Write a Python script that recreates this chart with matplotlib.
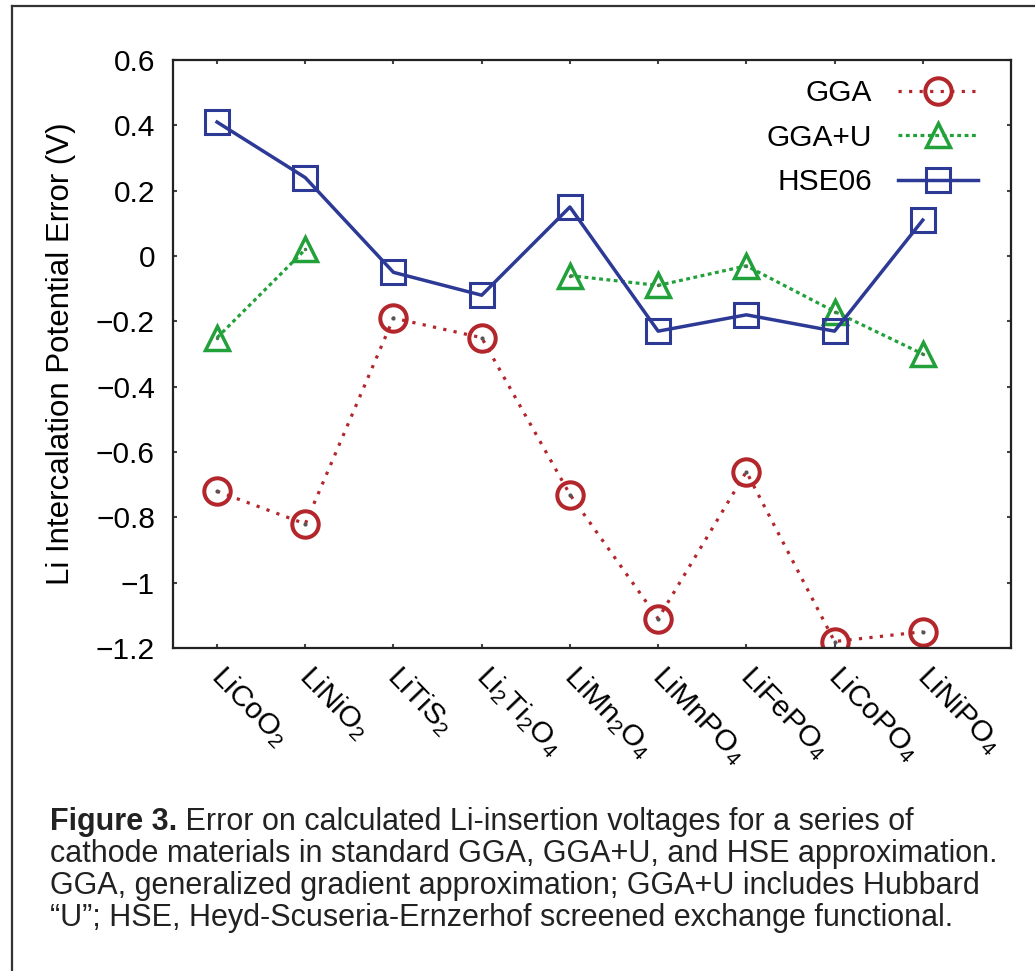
import numpy as np
import matplotlib
matplotlib.use("Agg")
import matplotlib.pyplot as plt
import matplotlib.transforms as mtransforms
from matplotlib.lines import Line2D

plt.rcParams['font.family'] = ['Liberation Sans', 'DejaVu Sans']
plt.rcParams['mathtext.fontset'] = 'custom'
plt.rcParams['mathtext.rm'] = 'Liberation Sans'
plt.rcParams['mathtext.default'] = 'regular'
plt.rcParams['axes.unicode_minus'] = True

# data
materials = ['LiCoO$_2$', 'LiNiO$_2$', 'LiTiS$_2$', 'Li$_2$Ti$_2$O$_4$', 'LiMn$_2$O$_4$',
             'LiMnPO$_4$', 'LiFePO$_4$', 'LiCoPO$_4$', 'LiNiPO$_4$']
gga = [-0.72, -0.82, -0.19, -0.25, -0.73, -1.11, -0.66, -1.18, -1.15]
gga_u = [-0.25, 0.02, np.nan, np.nan, -0.06, -0.09, -0.03, -0.17, -0.30]
hse06 = [0.41, 0.24, -0.05, -0.12, 0.15, -0.23, -0.18, -0.23, 0.11]
yticks = [0.6, 0.4, 0.2, 0, -0.2, -0.4, -0.6, -0.8, -1, -1.2]
caption = ["cathode materials in standard GGA, GGA+U, and HSE approximation.",
           "GGA, generalized gradient approximation; GGA+U includes Hubbard",
           "\u201cU\u201d; HSE, Heyd-Scuseria-Ernzerhof screened exchange functional."]

red = '#b3262b'
green = '#22a03a'
blue = '#2c3a96'

fig = plt.figure(figsize=(10.35, 9.71), dpi=100)
ax = fig.add_axes([0.1671, 0.3326, 0.8097, 0.6056])
x = np.arange(1, len(materials) + 1)

l1, = ax.plot(x, gga, color=red, lw=2.3, linestyle=(0, (1, 2.3)), marker='o', ms=19,
              mfc='none', mec=red, mew=2.9, label='GGA')
l2, = ax.plot(x, gga_u, color=green, lw=2.3, linestyle=(0, (1.2, 1.1)), marker='^', ms=17.5,
              mfc='none', mec=green, mew=2.5, label='GGA+U')
l3, = ax.plot(x, hse06, color=blue, lw=2.5, linestyle='-', marker='s', ms=17.5,
              mfc='none', mec=blue, mew=2.2, label='HSE06')
# small centre dots of the gnuplot point types
ax.plot(x, gga, linestyle='none', marker='.', ms=4, color='#555555')
ax.plot(x, gga_u, linestyle='none', marker='.', ms=3, color='#4a7a4a')

ax.set_xlim(0.5, 10)
ax.set_ylim(-1.2, 0.6)
ax.set_yticks(yticks)
ax.set_yticklabels([('%g' % v).replace('-', '\u2212') for v in yticks])
ax.set_xticks(x)
ax.set_xticklabels(materials, rotation=-46, ha='left', va='top', rotation_mode='anchor')
ax.tick_params(direction='in', length=3, width=1.5, labelsize=21.5, color='#444444',
               top=True, right=True)
ax.tick_params(axis='y', pad=13)
ax.tick_params(axis='x', pad=9)
shift = mtransforms.ScaledTranslation(10 / 100, 0, fig.dpi_scale_trans)
for lab in ax.get_xticklabels():
    lab.set_transform(lab.get_transform() + shift)
for s in ax.spines.values():
    s.set_linewidth(1.6)
    s.set_color('#222222')

ax.set_ylabel('Li Intercalation Potential Error (V)', fontsize=22.5, labelpad=14)

ax.legend(handles=[l1, l2, l3], loc='upper right', bbox_to_anchor=(0.961, 0.967),
          frameon=False, markerfirst=False, fontsize=21.5, handlelength=2.7,
          handletextpad=0.85, labelspacing=0.55, borderaxespad=0, borderpad=0)

# outer frame (left and top edges visible)
fig.add_artist(Line2D([12 / 1035, 12 / 1035], [0, 1 - 6 / 971], color='#333333', lw=1.6))
fig.add_artist(Line2D([12 / 1035, 1], [1 - 6 / 971, 1 - 6 / 971], color='#333333', lw=1.6))

cap_font = ['Liberation Sans Narrow', 'Liberation Sans', 'DejaVu Sans']
t1 = fig.text(50 / 1035, 1 - 822 / 971, 'Figure 3.', fontsize=22, weight='bold',
              family=cap_font, va='center', color='#222222')
ax.annotate(' Error on calculated Li-insertion voltages for a series of', xy=(1, 0),
            xycoords=t1, va='bottom', ha='left', fontsize=22, family=cap_font,
            color='#222222', annotation_clip=False)
for i, line in enumerate(caption):
    fig.text(50 / 1035, 1 - (854 + 32 * i) / 971, line, fontsize=22, family=cap_font,
             va='center', color='#222222')

fig.savefig('out.png', dpi=100)
